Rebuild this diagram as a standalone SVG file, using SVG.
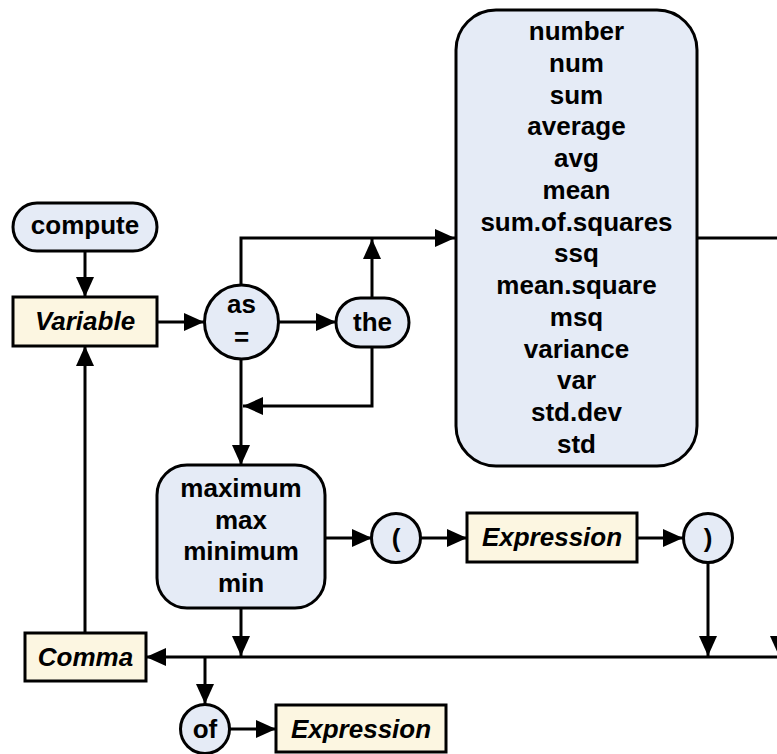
<svg xmlns="http://www.w3.org/2000/svg" width="777" height="754" viewBox="0 0 777 754">
<style>
.t{font-family:"Liberation Sans",Arial,sans-serif;font-weight:bold;font-size:26px;fill:#000;text-anchor:middle}
.i{font-style:italic}
.kw{fill:#E5EBF6;stroke:#000;stroke-width:3}
.nt{fill:#FCF6E1;stroke:#000;stroke-width:3}
.c{fill:none;stroke:#000;stroke-width:3}
</style>
<defs>
<marker id="ah" markerUnits="userSpaceOnUse" markerWidth="20" markerHeight="18" refX="20" refY="9" orient="auto">
<path d="M0,0 L20,9 L0,18 z" fill="#000"/>
</marker>
</defs>
<rect width="777" height="754" fill="#fff"/>
<g id="connectors">
<path class="c" d="M85,251 V297" marker-end="url(#ah)"/>
<path class="c" d="M157,322 H204" marker-end="url(#ah)"/>
<path class="c" d="M278,322 H336" marker-end="url(#ah)"/>
<path class="c" d="M241,285 V238 H455" marker-end="url(#ah)"/>
<path class="c" d="M372,298 V239" marker-end="url(#ah)"/>
<path class="c" d="M372,347 V406 H243" marker-end="url(#ah)"/>
<path class="c" d="M241,359 V465" marker-end="url(#ah)"/>
<path class="c" d="M325,538 H372" marker-end="url(#ah)"/>
<path class="c" d="M420,538 H467" marker-end="url(#ah)"/>
<path class="c" d="M637,538 H683" marker-end="url(#ah)"/>
<path class="c" d="M708,562 V656" marker-end="url(#ah)"/>
<path class="c" d="M697,238 H779 V656" marker-end="url(#ah)"/>
<path class="c" d="M790,657 H146" marker-end="url(#ah)"/>
<path class="c" d="M241,608 V656" marker-end="url(#ah)"/>
<path class="c" d="M205,657 V704" marker-end="url(#ah)"/>
<path class="c" d="M230,729 H276" marker-end="url(#ah)"/>
<path class="c" d="M85,633 V346" marker-end="url(#ah)"/>
</g>
<g id="compute">
<rect class="kw" x="13" y="203" width="144" height="48" rx="24"/>
<text class="t" x="85" y="234">compute</text>
</g>
<g id="variable">
<rect class="nt" x="13" y="297" width="144" height="49"/>
<text class="t i" x="85" y="330">Variable</text>
</g>
<g id="as">
<circle class="kw" cx="241.5" cy="322" r="37"/>
<text class="t" x="241.5" y="313">as</text>
<text class="t" x="241.5" y="346">=</text>
</g>
<g id="the">
<rect class="kw" x="336" y="298" width="73" height="49" rx="24.5"/>
<text class="t" x="372.5" y="331">the</text>
</g>
<g id="stats">
<rect class="kw" x="456" y="10" width="241" height="456" rx="40"/>
<text class="t" x="576.5" y="40">number</text>
<text class="t" x="576.5" y="71.75">num</text>
<text class="t" x="576.5" y="103.5">sum</text>
<text class="t" x="576.5" y="135.25">average</text>
<text class="t" x="576.5" y="167">avg</text>
<text class="t" x="576.5" y="198.75">mean</text>
<text class="t" x="576.5" y="230.5">sum.of.squares</text>
<text class="t" x="576.5" y="262.25">ssq</text>
<text class="t" x="576.5" y="294">mean.square</text>
<text class="t" x="576.5" y="325.75">msq</text>
<text class="t" x="576.5" y="357.5">variance</text>
<text class="t" x="576.5" y="389.25">var</text>
<text class="t" x="576.5" y="421">std.dev</text>
<text class="t" x="576.5" y="452.75">std</text>
</g>
<g id="maxmin">
<rect class="kw" x="157" y="465" width="168" height="143" rx="30"/>
<text class="t" x="241" y="497">maximum</text>
<text class="t" x="241" y="528.5">max</text>
<text class="t" x="241" y="560">minimum</text>
<text class="t" x="241" y="591.5">min</text>
</g>
<g id="lparen">
<circle class="kw" cx="396" cy="538" r="24.5"/>
<text class="t" x="396" y="547">(</text>
</g>
<g id="expression1">
<rect class="nt" x="467" y="513" width="170" height="49"/>
<text class="t i" x="552" y="546">Expression</text>
</g>
<g id="rparen">
<circle class="kw" cx="708" cy="538" r="24.5"/>
<text class="t" x="708" y="547">)</text>
</g>
<g id="comma">
<rect class="nt" x="25" y="633" width="121" height="48"/>
<text class="t i" x="85.5" y="666">Comma</text>
</g>
<g id="of">
<circle class="kw" cx="205" cy="729" r="24.5"/>
<text class="t" x="205" y="738">of</text>
</g>
<g id="expression2">
<rect class="nt" x="276" y="705" width="170" height="47"/>
<text class="t i" x="361" y="738">Expression</text>
</g>
</svg>
